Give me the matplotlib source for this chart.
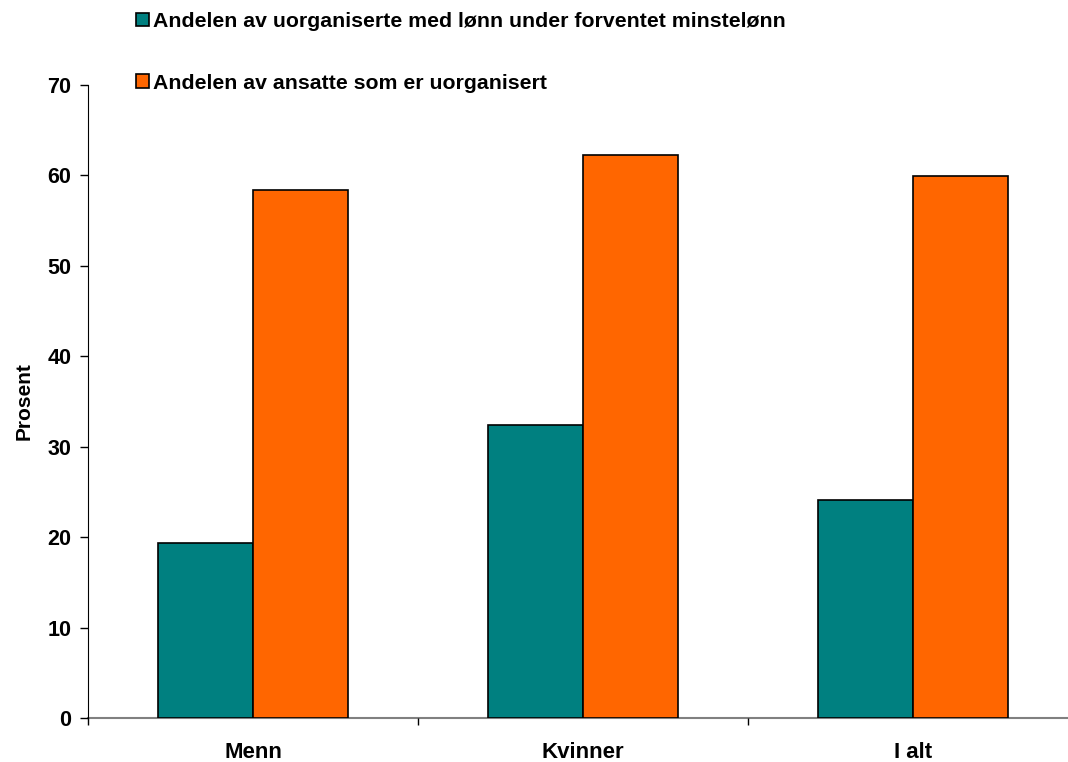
import matplotlib
matplotlib.use("Agg")
import matplotlib.pyplot as plt
import numpy as np

categories = ["Menn", "Kvinner", "I alt"]
under_minstelonn = [19.3, 32.4, 24.1]
uorganisert = [58.4, 62.3, 59.9]
series_labels = [
    "Andelen av uorganiserte med lønn under forventet minstelønn",
    "Andelen av ansatte som er uorganisert",
]
yticks = [0, 10, 20, 30, 40, 50, 60, 70]

plt.rcParams["font.family"] = ["Liberation Sans", "DejaVu Sans"]
plt.rcParams["font.weight"] = "bold"

fig = plt.figure(figsize=(10.68, 7.62), dpi=100)
ax = fig.add_axes([88 / 1068, 44 / 762, 990 / 1068, 633 / 762])

x = np.arange(len(categories))
w = 0.288
b1 = ax.bar(x - w / 2, under_minstelonn, width=w, color="#008080",
            edgecolor="black", linewidth=1.2, label=series_labels[0])
b2 = ax.bar(x + w / 2, uorganisert, width=w, color="#FF6600",
            edgecolor="black", linewidth=1.2, label=series_labels[1])

ax.set_xlim(-0.5, 2.5)
ax.set_ylim(0, 70)
ax.set_yticks(yticks)
ax.set_yticklabels([str(t) for t in yticks], fontsize=15.5, fontweight="bold")
ax.tick_params(axis="y", direction="out", length=6, width=1, pad=6)

ax.set_xticks([-0.5, 0.5, 1.5, 2.5])
ax.set_xticklabels([])
ax.tick_params(axis="x", which="major", direction="out", length=5, width=1, color="black")
ax.set_xticks(x, minor=True)
ax.set_xticklabels(categories, minor=True, fontsize=16, fontweight="bold")
ax.tick_params(axis="x", which="minor", length=0, pad=17)

ax.spines["top"].set_visible(False)
ax.spines["right"].set_visible(False)
ax.spines["left"].set_color("black")
ax.spines["bottom"].set_color("#808080")
ax.spines["bottom"].set_linewidth(1.5)
ax.spines["bottom"].set_zorder(0.5)

ax.set_ylabel("Prosent", fontsize=15, fontweight="bold", labelpad=10)

fig.legend(handles=[b1, b2], loc="upper left", bbox_to_anchor=(117 / 1068, 1 + 7 / 762),
           frameon=False, handlelength=0.6, handleheight=0.6,
           handletextpad=0.2, labelspacing=2.0,
           prop={"weight": "bold", "size": 15.3})

fig.savefig("out.png", dpi=100)
